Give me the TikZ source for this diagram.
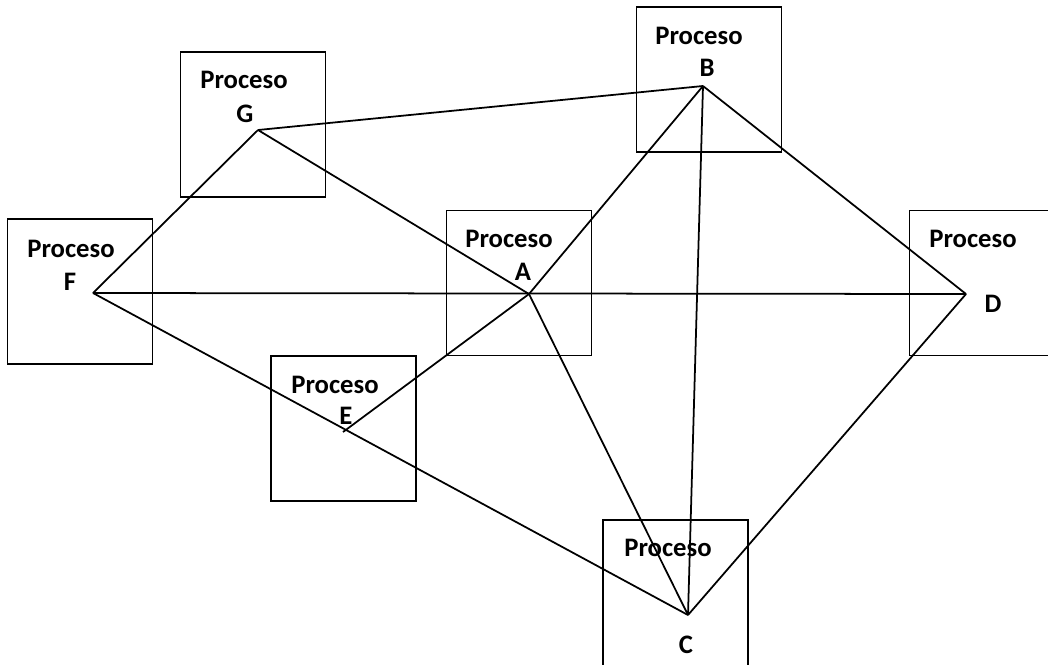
\documentclass[tikz,border=0pt]{standalone}
\usepackage{fontspec}
\setmainfont{Carlito}
\usepackage{tikz}

\begin{document}
\begin{tikzpicture}[x=0.02cm,y=-0.02cm,
	proc/.style={draw, line width=1pt, minimum width=2.9cm, minimum height=2.9cm, inner sep=0pt},
	lbl/.style={font=\fontsize{15.2}{17}\selectfont\bfseries, inner sep=0pt},
	link/.style={line width=1pt}]
	\useasboundingbox (0,0) rectangle (1048,664);
	\clip (0,0) rectangle (1048,664);
	%\draw [help lines] (0,0) grid (1048,664);
	% cajas
	\node [proc] (boxG) at (253,124.5) {};
	\node [proc] (boxB) at (709,79.5) {};
	\node [proc] (boxF) at (80,291.5) {};
	\node [proc] (boxA) at (519,283) {};
	\node [proc] (boxD) at (982,283) {};
	\node [proc] (boxE) at (343.5,428.5) {};
	\node [proc, minimum height=3.4cm] (boxC) at (675.5,605) {};
	% textos
	\node [lbl] (tG) at (244,80) {Proceso};
	\node [lbl] (lG) at (245,114) {G};
	\node [lbl] (tB) at (699,36) {Proceso};
	\node [lbl] (lB) at (707,68) {B};
	\node [lbl] (tF) at (71,249) {Proceso};
	\node [lbl] (lF) at (70,282) {F};
	\node [lbl] (tA) at (509,239) {Proceso};
	\node [lbl] (lA) at (523,272) {A};
	\node [lbl] (tD) at (973,239) {Proceso};
	\node [lbl] (lD) at (993,304) {D};
	\node [lbl] (tE) at (335,385) {Proceso};
	\node [lbl] (lE) at (346,416) {E};
	\node [lbl] (tC) at (668,548) {Proceso};
	\node [lbl] (lC) at (686,645) {C};
	% puntos de union
	\coordinate (G) at (258,130);
	\coordinate (B) at (703,86);
	\coordinate (F) at (93,293);
	\coordinate (A) at (529,294);
	\coordinate (D) at (966,294);
	\coordinate (E) at (343,432);
	\coordinate (C) at (688,615);
	% lineas
	\draw [link] (G) -- (B);
	\draw [link] (G) -- (F);
	\draw [link] (G) -- (A);
	\draw [link] (B) -- (A);
	\draw [link] (B) -- (C);
	\draw [link] (B) -- (D);
	\draw [link] (F) -- (D);
	\draw [link] (F) -- (C);
	\draw [link] (A) -- (E);
	\draw [link] (A) -- (C);
	\draw [link] (D) -- (C);
\end{tikzpicture}
\end{document}
